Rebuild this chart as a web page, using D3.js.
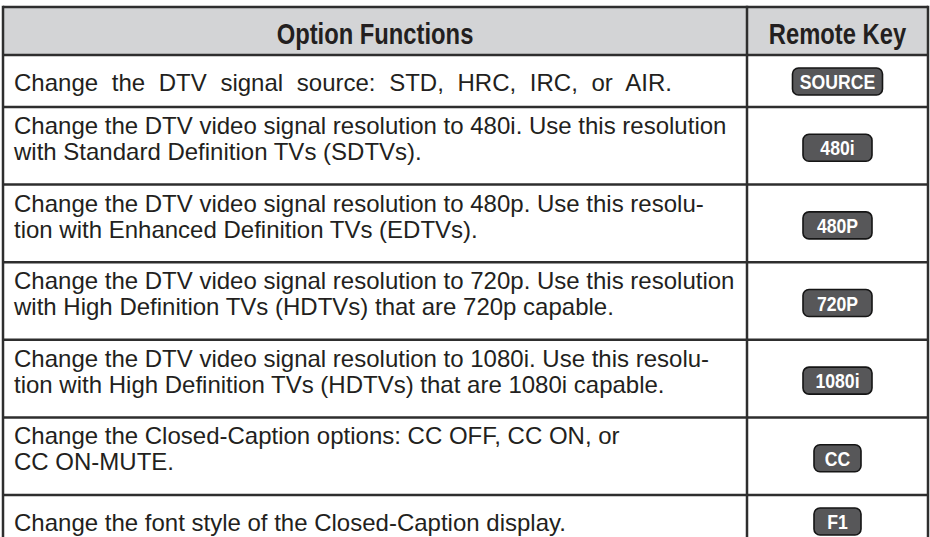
<!DOCTYPE html>
<html>
<head>
<meta charset="utf-8">
<script src="https://cdn.jsdelivr.net/npm/d3@7"></script>
<style>
  html, body { margin: 0; padding: 0; background: #ffffff; }
  svg { display: block; }
</style>
</head>
<body>
<svg id="chart" width="930" height="537"></svg>
<script>
// ---- data ----
const headers = ["Option Functions", "Remote Key"];
const functionLines = [
  ["Change the DTV signal source: STD, HRC, IRC, or AIR."],
  ["Change the DTV video signal resolution to 480i. Use this resolution",
   "with Standard Definition TVs (SDTVs)."],
  ["Change the DTV video signal resolution to 480p. Use this resolu-",
   "tion with Enhanced Definition TVs (EDTVs)."],
  ["Change the DTV video signal resolution to 720p. Use this resolution",
   "with High Definition TVs (HDTVs) that are 720p capable."],
  ["Change the DTV video signal resolution to 1080i. Use this resolu-",
   "tion with High Definition TVs (HDTVs) that are 1080i capable."],
  ["Change the Closed-Caption options: CC OFF, CC ON, or",
   "CC ON-MUTE."],
  ["Change the font style of the Closed-Caption display."]
];
const remoteKeys = ["SOURCE", "480i", "480P", "720P", "1080i", "CC", "F1"];

// ---- layout ----
(function () {
const svg = d3.select("#chart");
const left = 3, right = 928, divider = 747, tableTop = 7;
const headerH = 48, singleH = 52, doubleH = 77.6;
const rowH = functionLines.map(l => l.length === 1 ? singleH : doubleH);
const rowTops = [];
let acc = tableTop + headerH;
rowH.forEach(h => { rowTops.push(acc); acc += h; });
const bottom = acc;

const border = "#2e2e2e";
const textCol = "#231f20";
const fontFam = "'Liberation Sans', Arial, Helvetica, sans-serif";

const colX = d3.scaleOrdinal().domain(headers).range([[left, divider], [divider, right]]);

svg.append("rect")
  .attr("x", left).attr("y", tableTop)
  .attr("width", right - left).attr("height", headerH)
  .attr("fill", "#d3d4d6");

svg.selectAll("text.hdr").data(headers).enter().append("text")
  .attr("class", "hdr")
  .attr("transform", d => {
    const [a, b] = colX(d);
    return `translate(${(a + b) / 2},${tableTop + 37}) scale(0.82,1)`;
  })
  .attr("text-anchor", "middle")
  .attr("font-family", fontFam)
  .attr("font-weight", "bold")
  .attr("font-size", 29)
  .attr("fill", textCol)
  .text(d => d);

const rows = svg.selectAll("g.row").data(functionLines).enter().append("g")
  .attr("class", "row")
  .attr("transform", (d, i) => `translate(0,${rowTops[i]})`);

rows.each(function (lines, i) {
  const g = d3.select(this);
  const offs = lines.length === 1 ? [35.5] : [27, 53];
  g.selectAll("text").data(lines).enter().append("text")
    .attr("x", 14)
    .attr("y", (d, j) => offs[j])
    .attr("font-family", fontFam)
    .attr("font-size", 24)
    .attr("word-spacing", i === 0 ? 7 : 0)
    .attr("fill", textCol)
    .text(d => d);
});

const keyCx = (divider + right) / 2;
function keyWidth(label) {
  if (label.length <= 2) return 47;
  if (label.length <= 5) return 69;
  return 90;
}
rows.each(function (lines, i) {
  const g = d3.select(this);
  const label = remoteKeys[i];
  const w = keyWidth(label), h = 27;
  const cy = rowH[i] / 2 + (lines.length === 1 ? 0.5 : 2);
  g.append("rect")
    .attr("x", keyCx - w / 2).attr("y", cy - h / 2)
    .attr("width", w).attr("height", h)
    .attr("rx", 6).attr("ry", 6)
    .attr("fill", "#575759")
    .attr("stroke", "#151515").attr("stroke-width", 1.6);
  g.append("text")
    .attr("transform", `translate(${keyCx},${cy + 7.5}) scale(0.84,1)`)
    .attr("text-anchor", "middle")
    .attr("font-family", fontFam)
    .attr("font-weight", "bold")
    .attr("font-size", 21)
    .attr("fill", "#ffffff")
    .text(label);
});

const hLines = [tableTop, tableTop + headerH, ...rowTops.slice(1), bottom];
svg.selectAll("line.h").data(hLines).enter().append("line")
  .attr("class", "h")
  .attr("x1", left).attr("x2", right)
  .attr("y1", d => d).attr("y2", d => d)
  .attr("stroke", border).attr("stroke-width", 2.5);
svg.selectAll("line.v").data([left, divider, right]).enter().append("line")
  .attr("class", "v")
  .attr("x1", d => d).attr("x2", d => d)
  .attr("y1", tableTop - 1.25).attr("y2", bottom + 1.25)
  .attr("stroke", border).attr("stroke-width", 2.5);
})();
</script>
</body>
</html>
